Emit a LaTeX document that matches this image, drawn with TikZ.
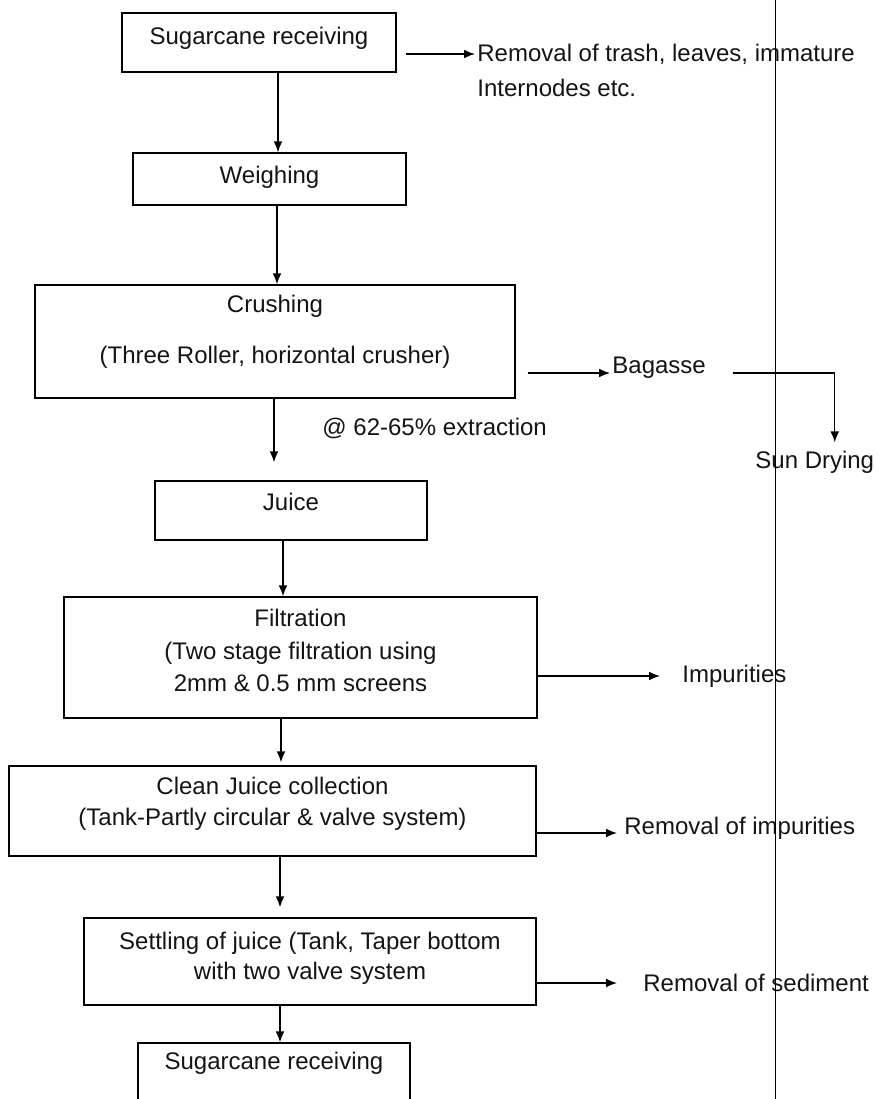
\documentclass[tikz,border=0pt]{standalone}
\usepackage{fontspec}
\setmainfont{Liberation Sans}
\usetikzlibrary{arrows.meta}

\newcommand{\stagedrop}[1]{\rule[-#1pt]{0pt}{#1pt}}

\tikzset{
    stage/.style={draw, line width=0.7pt, inner sep=0pt, align=center,
        text=black!92, font=\fontsize{12}{14.4}\selectfont},
    note/.style={inner sep=0pt, anchor=west, text=black!92,
        font=\fontsize{12}{14.4}\selectfont},
    flow/.style={line width=0.7pt, -{Latex[length=5.5pt,width=4.4pt]}},
}

\begin{document}
\begin{tikzpicture}[x=0.5pt, y=-0.5pt]

\clip (0, 0) rectangle (880, 1099);

% process boxes
\node[stage, minimum width=137pt, minimum height=29.5pt] (recv) at (259, 42.5)
    {Sugarcane receiving\stagedrop{7}};
\node[stage, minimum width=136.5pt, minimum height=26pt] (weigh) at (269.5, 179)
    {Weighing\stagedrop{4}};
\node[stage, minimum width=240pt, minimum height=56.5pt] (crush) at (275, 341.5)
    {Crushing\\[11.1pt](Three Roller, horizontal crusher)\stagedrop{12.5}};
\node[stage, minimum width=136pt, minimum height=29.5pt] (juice) at (291, 510.5)
    {Juice\stagedrop{8.5}};
\node[stage, minimum width=236.5pt, minimum height=60.5pt] (filt) at (300.5, 657.5)
    {Filtration\\[1.85pt](Two stage filtration using\\[1.85pt]2mm \& 0.5 mm screens\stagedrop{7}};
\node[stage, minimum width=263.5pt, minimum height=45pt] (clean) at (272.5, 811)
    {Clean Juice collection\\[1.1pt](Tank-Partly circular \& valve system)\stagedrop{10}};
\node[stage, minimum width=226pt, minimum height=43.5pt] (settle) at (310, 961.5)
    {Settling of juice (Tank, Taper bottom\\[0.85pt]with two valve system\stagedrop{5.5}};
\node[stage, minimum width=136pt, minimum height=36pt] (last) at (274, 1079)
    {Sugarcane receiving\stagedrop{18.5}};

% side notes
\node[note] (trash) at (477, 54) {Removal of trash, leaves, immature};
\node[note] (intern) at (477, 88) {Internodes etc.};
\node[note] (bag) at (612, 368) {Bagasse};
\node[note] (sun) at (755, 462) {Sun Drying};
\node[note] (ext) at (322, 428) {@ 62-65\% extraction};
\node[note] (imp) at (682, 676) {Impurities};
\node[note] (remimp) at (624, 828) {Removal of impurities};
\node[note] (sed) at (643, 983) {Removal of sediment};

% main line
\draw[flow] (278,0 |- recv.south) -- (278,0 |- weigh.north);
\draw[flow] (277,0 |- weigh.south) -- (277,0 |- crush.north);
\draw[flow,shorten >=9pt] (274,0 |- crush.south) -- (274,0 |- juice.north);
\draw[flow] (283,0 |- juice.south) -- (283,0 |- filt.north);
\draw[flow,shorten >=1.5pt] (281,0 |- filt.south) -- (281,0 |- clean.north);
\draw[flow,shorten >=5pt] (280,0 |- clean.south) -- (280,0 |- settle.north);
\draw[flow] (280,0 |- settle.south) -- (280,0 |- last.north);

% side arrows
\draw[flow,shorten <=4.5pt,shorten >=1pt] (recv.east |- trash.west) -- (trash.west);
\draw[flow,shorten <=6pt,shorten >=1pt] ([yshift=-2.5pt]crush.east |- bag.west) -- ([yshift=-2.5pt]bag.west);
\draw[flow,shorten <=13.5pt,shorten >=4pt] ([yshift=-2.5pt]bag.east) -| ([xshift=10pt]sun.north);
\draw[flow,shorten >=11pt] (filt.east |- imp.west) -- (imp.west);
\draw[flow,shorten >=3.5pt] ([yshift=-2.5pt]clean.east |- remimp.west) -- ([yshift=-2.5pt]remimp.west);
\draw[flow,shorten >=13pt] (settle.east |- sed.west) -- (sed.west);

\draw[line width=0.5pt] (775, 0) -- (775, 1099);

\end{tikzpicture}
\end{document}
